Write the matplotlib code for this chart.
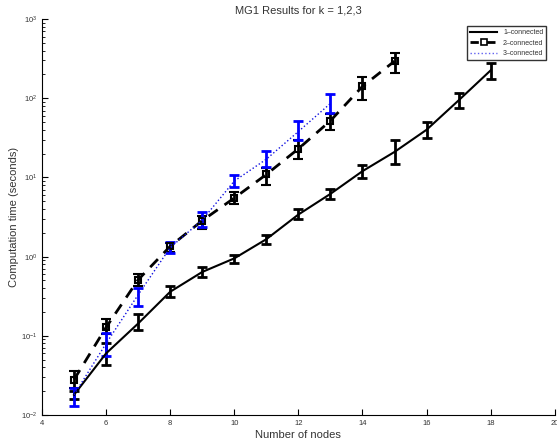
import matplotlib
matplotlib.use("Agg")
import matplotlib.pyplot as plt
from matplotlib.lines import Line2D
from matplotlib.ticker import LogLocator

# 1-connected
x1 = [5, 6, 7, 8, 9, 10, 11, 12, 13, 14, 15, 16, 17, 18]
y1 = [0.018, 0.060, 0.143, 0.36, 0.64, 0.95, 1.66, 3.4, 6.2, 12.0, 21.0, 40.0, 94.0, 225.0]
lo1 = [0.016, 0.043, 0.118, 0.31, 0.555, 0.83, 1.46, 3.0, 5.4, 9.9, 14.9, 31.8, 75.0, 176.0]
hi1 = [0.020, 0.082, 0.191, 0.427, 0.735, 1.06, 1.9, 3.96, 7.2, 14.5, 29.4, 50.0, 116.0, 277.0]

# 2-connected
x2 = [5, 6, 7, 8, 9, 10, 11, 12, 13, 14, 15]
y2 = [0.028, 0.128, 0.51, 1.35, 2.85, 5.5, 10.9, 23.0, 52.0, 141.0, 294.0]
lo2 = [0.022, 0.105, 0.43, 1.15, 2.26, 4.6, 8.0, 16.9, 39.3, 94.0, 207.0]
hi2 = [0.036, 0.161, 0.61, 1.5, 3.23, 6.5, 13.3, 29.4, 63.7, 184.0, 375.0]

# 3-connected
x3 = [5, 6, 7, 8, 9, 10, 11, 12, 13]
y3 = [0.018, 0.08, 0.33, 1.3, 2.9, 9.0, 17.0, 38.0, 86.0]
lo3 = [0.013, 0.055, 0.237, 1.1, 2.37, 7.6, 13.5, 30.0, 66.0]
hi3 = [0.022, 0.109, 0.40, 1.53, 3.66, 10.7, 21.5, 51.0, 112.0]

labels = ["1\u2013connected", "2\u2013connected", "3\u2013connected"]
xticks = [4, 6, 8, 10, 12, 14, 16, 18, 20]
txt = "#333333"

plt.rcParams["font.family"] = ["Liberation Sans", "DejaVu Sans"]

fig = plt.figure(figsize=(5.57, 4.43), dpi=100)
ax = fig.add_axes([0.0754, 0.0632, 0.9206, 0.8938])


def err(y, lo, hi):
    return [[a - b for a, b in zip(y, lo)], [b - a for a, b in zip(y, hi)]]


ax.errorbar(x1, y1, yerr=err(y1, lo1, hi1), color="black", lw=1.5, ls="-",
            elinewidth=2, capsize=3.5, capthick=2)
ax.errorbar(x2, y2, yerr=err(y2, lo2, hi2), color="black", lw=2, ls="--",
            marker="s", ms=5, mfc="none", mew=1.5, dashes=(4, 3),
            elinewidth=2, capsize=3.5, capthick=2)
ax.errorbar(x3, y3, yerr=err(y3, lo3, hi3), color="#1010e0", lw=1, ls=":",
            elinewidth=2, capsize=3.5, capthick=2, ecolor="blue")

handles = [
    Line2D([], [], color="black", lw=1.5, ls="-"),
    Line2D([], [], color="black", lw=2, ls="--", dashes=(3, 3), marker="s",
           ms=4, mfc="none", mew=1.2),
    Line2D([], [], color="#6060f0", lw=1, ls=":"),
]

ax.set_yscale("log")
ax.set_xlim(4, 20)
ax.set_ylim(1e-2, 1e3)
ax.set_xticks(xticks)
ax.yaxis.set_minor_locator(LogLocator(base=10, subs=range(2, 10)))
ax.tick_params(direction="in", which="both", labelsize=5.5, colors=txt,
               top=False, right=False)
ax.tick_params(which="major", length=4, color="black")
ax.tick_params(which="minor", length=2, color="black")
ax.spines["top"].set_visible(False)
ax.spines["right"].set_visible(False)

ax.set_title("MG1 Results for k = 1,2,3", fontsize=8, color=txt, pad=4)
ax.set_xlabel("Number of nodes", fontsize=8, color=txt, labelpad=2)
ax.set_ylabel("Computation time (seconds)", fontsize=8, color=txt, labelpad=1)

leg = ax.legend(handles, labels, loc="upper right", fontsize=5, frameon=True,
                fancybox=False, edgecolor="black", handlelength=4,
                borderpad=0.4, labelspacing=0.5, bbox_to_anchor=(0.99, 0.99))
leg.get_frame().set_linewidth(1)
for t in leg.get_texts():
    t.set_color(txt)

fig.savefig("out.png", dpi=100)
